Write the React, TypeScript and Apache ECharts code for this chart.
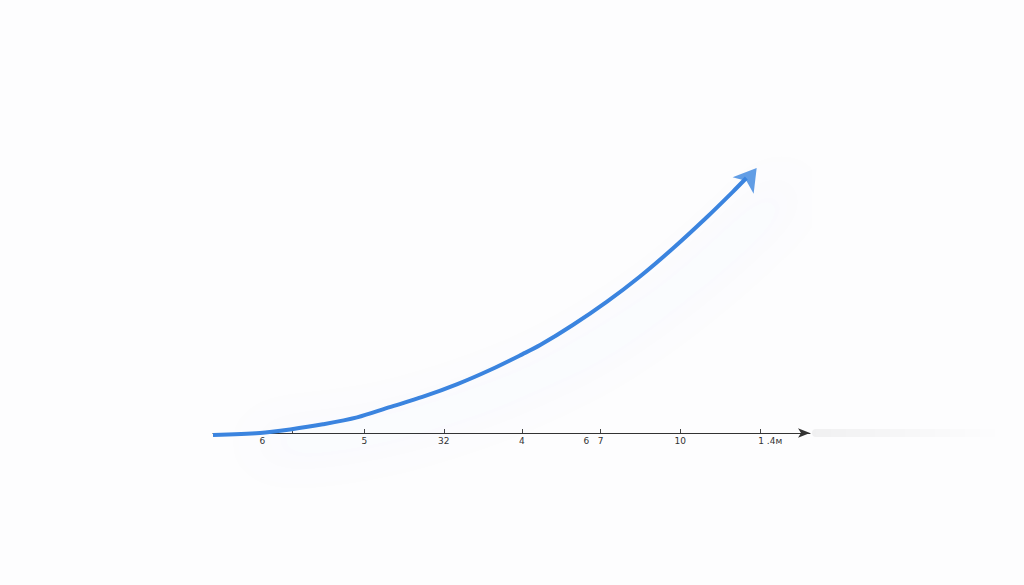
import React, { useEffect, useRef } from 'react';
import * as echarts from 'echarts';

// curve points, x in axis units, y in axis units
const curveX = [0, 0.59, 0.97, 1.38, 1.81, 2.22, 2.64, 3.07, 3.48, 3.89, 4.11, 4.52, 4.95, 5.36, 5.78, 6.21, 6.53, 6.7];
const curveY = [-0.07, 0.0, 0.12, 0.29, 0.52, 0.86, 1.21, 1.63, 2.1, 2.63, 2.93, 3.6, 4.38, 5.21, 6.16, 7.21, 8.04, 8.5];

// arrow head at the end of the curve
const arrowPoint = [6.83, 8.83];

// ticks and labels along the x axis
const tickValues = [1.0, 1.9, 2.9, 3.88, 4.87, 5.87, 6.88];
const labelValues = [0.62, 1.9, 2.9, 3.88, 4.69, 4.87, 5.87, 7.0];
const labelTexts = ['6', '5', '32', '4', '6', '7', '10', '1 .4м'];

const App: React.FC = () => {
  const chartRef = useRef<HTMLDivElement>(null);

  useEffect(() => {
    if (!chartRef.current) return;
    const chart = echarts.init(chartRef.current, undefined, { renderer: 'svg' });

    const labelMap: Record<string, string> = {};
    labelValues.forEach((v, i) => {
      labelMap[v.toFixed(2)] = labelTexts[i];
    });

    const option: echarts.EChartsOption = {
      animation: false,
      backgroundColor: '#fdfdfe',
      grid: { left: 213, right: 214, top: 133, bottom: 152 },
      graphic: [
        {
          // soft shadow trailing the axis arrow
          type: 'rect',
          left: 812,
          top: 429,
          shape: { width: 190, height: 8, r: 4 },
          silent: true,
          style: {
            fill: new echarts.graphic.LinearGradient(0, 0, 1, 0, [
              { offset: 0, color: 'rgba(0,0,0,0.05)' },
              { offset: 1, color: 'rgba(0,0,0,0)' }
            ]),
            shadowBlur: 10,
            shadowColor: 'rgba(0,0,0,0.06)'
          }
        }
      ],
      xAxis: {
        type: 'value',
        min: 0,
        max: 7.5,
        axisLine: {
          show: true,
          symbol: ['none', 'arrow'],
          symbolSize: [7, 12],
          lineStyle: { color: '#333', width: 1 }
        },
        axisTick: {
          show: true,
          customValues: tickValues,
          length: 4,
          inside: true,
          lineStyle: { color: '#444' }
        },
        axisLabel: {
          customValues: labelValues,
          formatter: (v: number) => labelMap[v.toFixed(2)] ?? '',
          color: '#333',
          fontSize: 9,
          fontFamily: 'DejaVu Sans',
          margin: 3
        },
        splitLine: { show: false }
      },
      yAxis: {
        type: 'value',
        min: 0,
        max: 10,
        show: false,
        splitLine: { show: false }
      },
      series: [
        {
          type: 'line',
          data: curveX.map((x, i) => [x, curveY[i]]),
          smooth: 0.3,
          clip: false,
          symbol: 'none',
          z: 5,
          lineStyle: {
            color: '#3a84df',
            width: 4,
            shadowColor: 'rgba(70, 120, 220, 0.18)',
            shadowBlur: 50,
            shadowOffsetX: 45,
            shadowOffsetY: 8
          }
        },
        {
          type: 'scatter',
          data: [arrowPoint],
          clip: false,
          symbol: 'arrow',
          symbolSize: [20, 22],
          symbolRotate: -38,
          z: 6,
          itemStyle: { color: '#3a84df' }
        }
      ]
    };

    chart.setOption(option);
    return () => chart.dispose();
  }, []);

  return (
    <div
      ref={chartRef}
      style={{ position: 'fixed', left: 0, top: 0, width: 1024, height: 585 }}
    />
  );
};

export default App;
